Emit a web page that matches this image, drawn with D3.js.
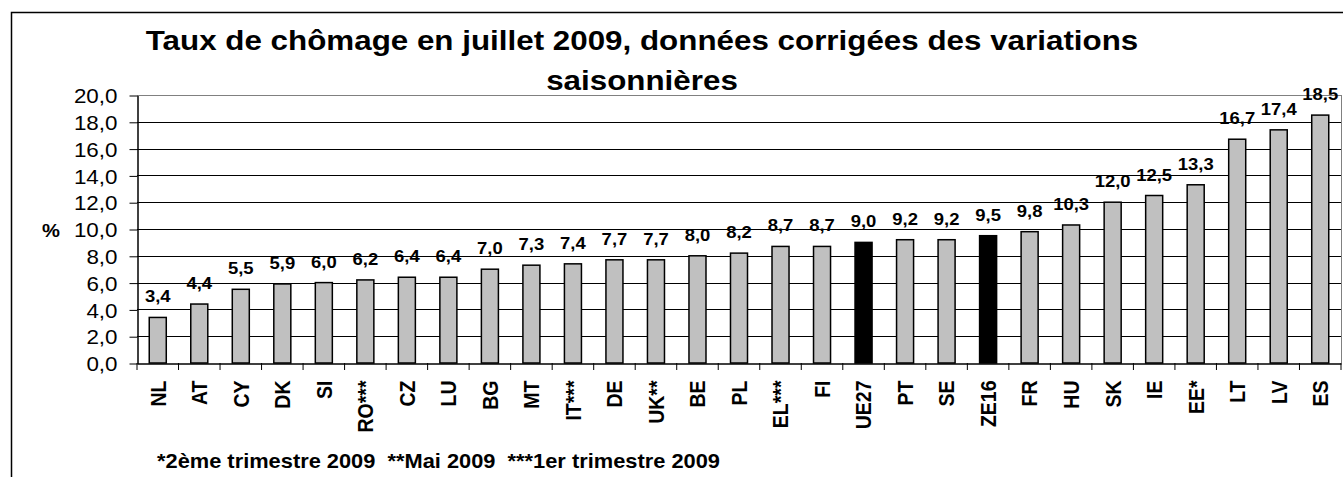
<!DOCTYPE html>
<html>
<head>
<meta charset="utf-8">
<script src="https://cdn.jsdelivr.net/npm/d3@7"></script>
<style>
  body { margin: 0; background: #fff; }
  text { font-family: "Liberation Sans", Arial, sans-serif; }
</style>
</head>
<body>
<script>
let countries = ["NL", "AT", "CY", "DK", "SI", "RO***", "CZ", "LU", "BG", "MT", "IT***", "DE", "UK**",
    "BE", "PL", "EL***", "FI", "UE27", "PT", "SE", "ZE16", "FR", "HU", "SK", "IE", "EE*", "LT", "LV", "ES"];
let rates = [3.4, 4.4, 5.5, 5.9, 6.0, 6.2, 6.4, 6.4, 7.0, 7.3, 7.4, 7.7, 7.7,
    8.0, 8.2, 8.7, 8.7, 9.0, 9.2, 9.2, 9.5, 9.8, 10.3, 12.0, 12.5, 13.3, 16.7, 17.4, 18.5];
let aggregates = ["UE27", "ZE16"];
let yTicks = [0, 2, 4, 6, 8, 10, 12, 14, 16, 18, 20];

let data = countries.map((c, i) => ({ name: c, value: rates[i] }));
let fmt = (v) => v.toFixed(1).replace(".", ",");
let k = 1.12;   // the original text looks a bit wide

let svg = d3.select("body").append("svg")
    .attr("width", 1343)
    .attr("height", 477);

// outer frame, runs past the right and bottom edge
svg.append("rect")
    .attr("x", 11.5).attr("y", 12.5)
    .attr("width", 1400).attr("height", 500)
    .attr("fill", "none").attr("stroke", "#000").attr("stroke-width", 1.5);

let plotL = 137, plotR = 1341, plotT = 95, plotB = 363;

let x = d3.scaleBand()
    .domain(countries)
    .range([plotL, plotR])
    .paddingInner(0.59)
    .paddingOuter(0.295);

let y = d3.scaleLinear().domain([0, 20]).range([plotB, plotT]);

// gridlines
svg.append("g").selectAll("line").data(yTicks.slice(1)).enter().append("line")
    .attr("x1", plotL).attr("x2", plotR)
    .attr("y1", d => Math.round(y(d)) + 0.5).attr("y2", d => Math.round(y(d)) + 0.5)
    .attr("stroke", d => d === 20 ? "#808080" : "#000").attr("stroke-width", 1);

svg.append("line")
    .attr("x1", plotR + 0.5).attr("x2", plotR + 0.5)
    .attr("y1", plotT).attr("y2", plotB)
    .attr("stroke", "#808080");

// y axis
let yAxis = d3.axisLeft(y).tickValues(yTicks).tickFormat(fmt).tickSize(8).tickSizeOuter(0);
let gy = svg.append("g").attr("transform", `translate(${plotL + 0.5},0.5)`).call(yAxis);
gy.select(".domain").attr("stroke", "#000").attr("stroke-width", 1.5);
gy.selectAll(".tick line").attr("stroke", "#000");
gy.selectAll(".tick text")
    .attr("font-size", 20)
    .attr("x", 0)
    .attr("dy", "0.36em")
    .attr("text-anchor", "end")
    .attr("transform", `translate(-20,0) scale(${k},1)`)
    .attr("fill", "#000");

svg.append("text")
    .attr("transform", `translate(51,237) scale(${k},1)`)
    .attr("text-anchor", "middle")
    .attr("font-size", 18).attr("font-weight", "bold")
    .text("%");

// bars
svg.append("g").selectAll("rect").data(data).enter().append("rect")
    .attr("x", d => x(d.name))
    .attr("y", d => y(d.value))
    .attr("width", x.bandwidth())
    .attr("height", d => plotB - y(d.value))
    .attr("fill", d => aggregates.includes(d.name) ? "#000" : "#c0c0c0")
    .attr("stroke", "#000").attr("stroke-width", 1.5);

// value labels
svg.append("g").selectAll("text").data(data).enter().append("text")
    .attr("transform", d => `translate(${x(d.name) + x.bandwidth() / 2},${y(d.value) - 15}) scale(${k},1)`)
    .attr("text-anchor", "middle")
    .attr("font-size", 16.5).attr("font-weight", "bold")
    .text(d => fmt(d.value));

// x axis
let xAxis = d3.axisBottom(x).tickSize(0).tickSizeOuter(0);
let gx = svg.append("g").attr("transform", `translate(0,${plotB + 0.5})`).call(xAxis);
gx.select(".domain").attr("stroke", "#000").attr("stroke-width", 1.5);
gx.selectAll(".tick text")
    .attr("font-size", 19.5).attr("font-weight", "bold").attr("fill", "#000")
    .attr("transform", `rotate(-90) translate(-17,0) scale(1,${k})`)
    .attr("text-anchor", "end")
    .attr("x", 0).attr("y", 0).attr("dy", "0.36em");

// ticks between categories
let step = x.step();
svg.append("g").selectAll("line").data(d3.range(countries.length + 1)).enter().append("line")
    .attr("x1", d => plotL + d * step).attr("x2", d => plotL + d * step)
    .attr("y1", plotB).attr("y2", plotB + 7)
    .attr("stroke", "#000");

// title
svg.append("text")
    .attr("transform", `translate(642,50) scale(${k},1)`)
    .attr("text-anchor", "middle")
    .attr("font-size", 28).attr("font-weight", "bold")
    .text("Taux de chômage en juillet 2009, données corrigées des variations");
svg.append("text")
    .attr("transform", `translate(642,90) scale(${k},1)`)
    .attr("text-anchor", "middle")
    .attr("font-size", 28).attr("font-weight", "bold")
    .text("saisonnières");

// footnote
svg.append("text")
    .attr("transform", `translate(157,468) scale(${k},1)`)
    .attr("font-size", 19.5).attr("font-weight", "bold")
    .attr("xml:space", "preserve")
    .text("*2ème trimestre 2009  **Mai 2009  ***1er trimestre 2009");
</script>
</body>
</html>
